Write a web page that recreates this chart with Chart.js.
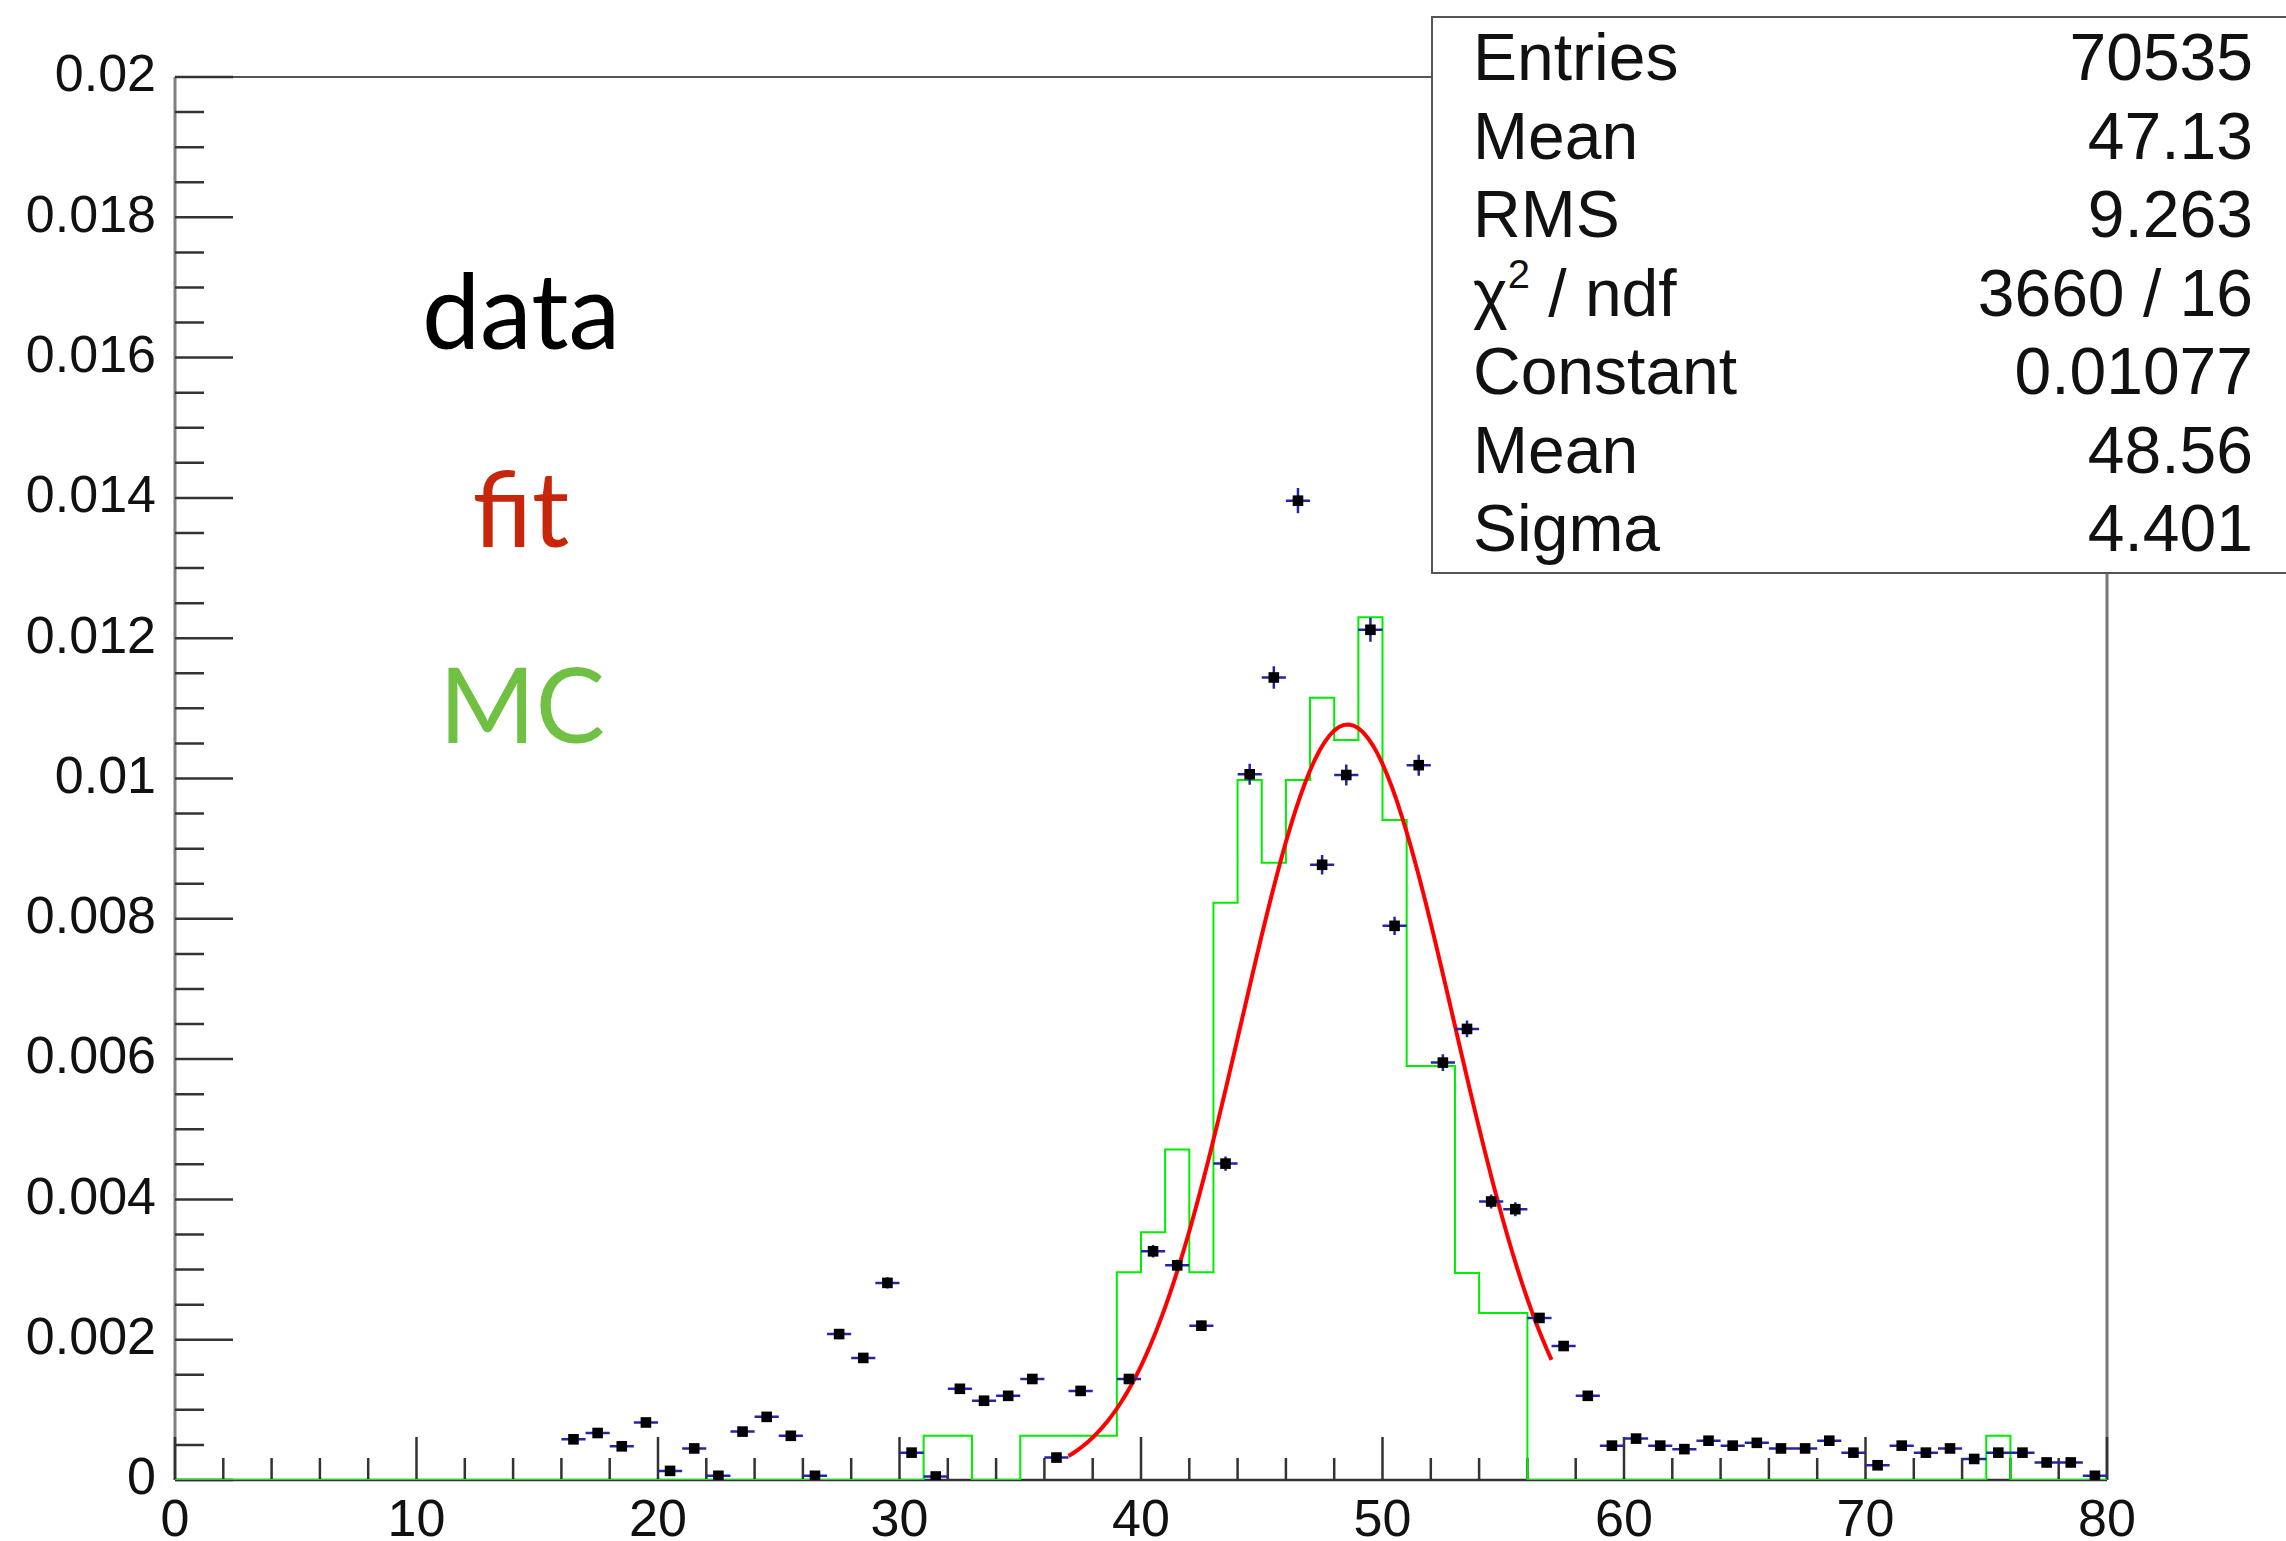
<!DOCTYPE html>
<html>
<head>
<meta charset="utf-8">
<title>data / fit / MC</title>
<script src="https://cdn.jsdelivr.net/npm/chart.js@4.4.1/dist/chart.umd.min.js"></script>
<style>
  html, body { margin: 0; padding: 0; background: #fff; }
  body { width: 2286px; height: 1541px; overflow: hidden; position: relative; }
  #plot { position: absolute; left: 0; top: 0; }
  .tag { position: absolute; width: 300px; text-align: center; font-family: Lato, sans-serif; font-size: 104px; line-height: 104px; }
  #stats {
    position: absolute; left: 1431px; top: 16px; width: 900px; box-sizing: border-box;
    border: 2px solid #555; background: #fff; padding: 0 0 4px 40px;
    font-family: "Liberation Sans", Arial, sans-serif; font-size: 66px; line-height: 78.5px; color: #111;
  }
  .row { display: flex; width: 780px; justify-content: space-between; white-space: nowrap; }
  .sup { font-size: 40px; position: relative; top: -28px; line-height: 0; }
</style>
</head>
<body>
<canvas id="plot" width="2286" height="1541"></canvas>

<div class="tag" style="left:371px; top:257px; color:#000;">data</div>
<div class="tag" style="left:371px; top:455px; color:#c8260a;">fit</div>
<div class="tag" style="left:372px; top:651px; color:#70c044;">MC</div>

<div id="stats">
  <div class="row"><span>Entries</span><span>70535</span></div>
  <div class="row"><span>Mean</span><span>47.13</span></div>
  <div class="row"><span>RMS</span><span>9.263</span></div>
  <div class="row"><span>χ<span class="sup">2</span> / ndf</span><span>3660 / 16</span></div>
  <div class="row"><span>Constant</span><span>0.01077</span></div>
  <div class="row"><span>Mean</span><span>48.56</span></div>
  <div class="row"><span>Sigma</span><span>4.401</span></div>
</div>

<script>
// axis labels
const xTickLabels = ['0', '10', '20', '30', '40', '50', '60', '70', '80'];
const yTickLabels = ['0', '0.002', '0.004', '0.006', '0.008', '0.01', '0.012', '0.014', '0.016', '0.018', '0.02'];

// data points (bin centres, contents, errors)
const dataX = [16.5, 17.5, 18.5, 19.5, 20.5, 21.5, 22.5, 23.5, 24.5, 25.5, 26.5, 27.5, 28.5, 29.5,
               30.5, 31.5, 32.5, 33.5, 34.5, 35.5, 36.5, 37.5, 39.5, 40.5, 41.5, 42.5, 43.5, 44.5,
               45.5, 46.5, 47.5, 48.5, 49.5, 50.5, 51.5, 52.5, 53.5, 54.5, 55.5, 56.5, 57.5, 58.5,
               59.5, 60.5, 61.5, 62.5, 63.5, 64.5, 65.5, 66.5, 67.5, 68.5, 69.5, 70.5, 71.5, 72.5,
               73.5, 74.5, 75.5, 76.5, 77.5, 78.5, 79.5];
const dataY = [0.00058, 0.00067, 0.00048, 0.00082, 0.00013, 0.00045, 0.00006, 0.00069, 0.0009, 0.00063,
               0.00006, 0.00208, 0.00174, 0.00281, 0.00039, 0.00005, 0.0013, 0.00113, 0.0012, 0.00144,
               0.00032, 0.00127, 0.00144, 0.00326, 0.00306, 0.0022, 0.00451, 0.01006, 0.01144, 0.01396,
               0.00877, 0.01005, 0.01212, 0.0079, 0.01019, 0.00595, 0.00643, 0.00397, 0.00386, 0.00231,
               0.00191, 0.0012, 0.00049, 0.00059, 0.00049, 0.00044, 0.00056, 0.00049, 0.00053, 0.00045,
               0.00045, 0.00056, 0.00039, 0.00021, 0.00049, 0.00039, 0.00045, 0.0003, 0.00039, 0.00039,
               0.00025, 0.00025, 0.00006];
const dataErr = [0.00004, 0.00004, 0.00003, 0.00004, 0.00002, 0.00003, 0.00001, 0.00004, 0.00004, 0.00004,
                 0.00001, 0.00007, 0.00006, 0.00008, 0.00003, 0.00001, 0.00005, 0.00005, 0.00005, 0.00006,
                 0.00003, 0.00005, 0.00006, 0.00009, 0.00008, 0.00007, 0.0001, 0.00015, 0.00016, 0.00018,
                 0.00014, 0.00015, 0.00017, 0.00013, 0.00015, 0.00012, 0.00012, 0.0001, 0.0001, 0.00007,
                 0.00007, 0.00005, 0.00003, 0.00004, 0.00003, 0.00003, 0.00004, 0.00003, 0.00004, 0.00003,
                 0.00003, 0.00004, 0.00003, 0.00002, 0.00003, 0.00003, 0.00003, 0.00003, 0.00003, 0.00003,
                 0.00002, 0.00002, 0.00001];

// MC histogram, one value per unit bin from 0 to 80
const mcBins = [
  0, 0, 0, 0, 0, 0, 0, 0, 0, 0,
  0, 0, 0, 0, 0, 0, 0, 0, 0, 0,
  0, 0, 0, 0, 0, 0, 0, 0, 0, 0,
  0, 0.00063, 0.00063, 0, 0, 0.00063, 0.00063, 0.00063, 0.00063, 0.00296,
  0.00353, 0.00471, 0.00296, 0.00823, 0.00998, 0.0088, 0.00998, 0.01115, 0.01055, 0.0123,
  0.00941, 0.0059, 0.0059, 0.00295, 0.00238, 0.00238, 0, 0, 0, 0,
  0, 0, 0, 0, 0, 0, 0, 0, 0, 0,
  0, 0, 0, 0, 0, 0.00063, 0, 0, 0, 0
];

// gaussian fit parameters
const fitConstant = 0.01077;
const fitMean = 48.56;
const fitSigma = 4.401;
const fitRange = [37, 57];

// bin i spans [i, i+1]; the first point only anchors the left edge
const mcPoints = [{ x: 0, y: mcBins[0] }];
mcBins.forEach((v, i) => mcPoints.push({ x: i + 1, y: v }));

const fitPoints = [];
for (let k = 0; k <= 100; k++) {
    const x = fitRange[0] + (fitRange[1] - fitRange[0]) * k / 100;
    const t = (x - fitMean) / fitSigma;
    fitPoints.push({ x: x, y: fitConstant * Math.exp(-0.5 * t * t) });
}

const dataPoints = dataX.map((x, i) => ({ x: x, y: dataY[i] }));

// frame, axis lines and inward tick marks
const framePlugin = {
    id: 'frame',
    beforeDatasetsDraw(chart) {
        const ctx = chart.ctx;
        const xs = chart.scales.x, ys = chart.scales.y;
        const a = chart.chartArea;
        ctx.save();
        ctx.lineCap = 'butt';

        ctx.strokeStyle = '#555';
        ctx.lineWidth = 2;
        ctx.beginPath();
        ctx.moveTo(a.left, a.top);
        ctx.lineTo(a.right, a.top);
        ctx.stroke();

        ctx.strokeStyle = '#777';
        ctx.lineWidth = 3;
        ctx.beginPath();
        ctx.moveTo(a.right, a.top);
        ctx.lineTo(a.right, a.bottom);
        ctx.stroke();

        ctx.strokeStyle = '#808080';
        ctx.beginPath();
        ctx.moveTo(a.left, a.top);
        ctx.lineTo(a.left, a.bottom);
        ctx.stroke();

        ctx.strokeStyle = '#333';
        ctx.lineWidth = 2.5;
        ctx.beginPath();
        ctx.moveTo(a.left, a.bottom);
        ctx.lineTo(a.right, a.bottom);
        ctx.stroke();

        // y ticks: major every 0.002, minor every 0.0005
        ctx.lineWidth = 2.5;
        ctx.beginPath();
        for (let k = 0; k <= 40; k++) {
            const py = ys.getPixelForValue(k * 0.0005);
            const len = k % 4 === 0 ? 58 : 29;
            ctx.moveTo(a.left, py);
            ctx.lineTo(a.left + len, py);
        }
        // x ticks: major every 10, minor every 2
        for (let k = 0; k <= 40; k++) {
            const px = xs.getPixelForValue(k * 2);
            const len = k % 5 === 0 ? 43 : 22;
            ctx.moveTo(px, a.bottom);
            ctx.lineTo(px, a.bottom - len);
        }
        ctx.stroke();
        ctx.restore();
    }
};

// horizontal bin-width bars and vertical error bars under the data markers
const errorBarPlugin = {
    id: 'errorBars',
    beforeDatasetDraw(chart, args) {
        if (args.index !== 0) return;
        const ctx = chart.ctx;
        const xs = chart.scales.x, ys = chart.scales.y;
        ctx.save();
        ctx.strokeStyle = '#2424a8';
        ctx.lineWidth = 2.5;
        ctx.beginPath();
        dataX.forEach((x, i) => {
            const py = ys.getPixelForValue(dataY[i]);
            ctx.moveTo(xs.getPixelForValue(x - 0.5), py);
            ctx.lineTo(xs.getPixelForValue(x + 0.5), py);
            ctx.moveTo(xs.getPixelForValue(x), ys.getPixelForValue(dataY[i] - dataErr[i]));
            ctx.lineTo(xs.getPixelForValue(x), ys.getPixelForValue(dataY[i] + dataErr[i]));
        });
        ctx.stroke();
        ctx.restore();
    }
};

const tickFont = { family: "'Liberation Sans', Arial, sans-serif", size: 52 };

new Chart(document.getElementById('plot').getContext('2d'), {
    type: 'scatter',
    data: {
        datasets: [
            {
                label: 'data',
                data: dataPoints,
                pointStyle: 'rect',
                pointRadius: 7.5,
                pointBackgroundColor: '#000',
                pointBorderWidth: 0,
                showLine: false
            },
            {
                label: 'fit',
                type: 'line',
                data: fitPoints,
                borderColor: '#ff0000',
                borderWidth: 4,
                pointRadius: 0,
                fill: false,
                tension: 0
            },
            {
                label: 'MC',
                type: 'line',
                data: mcPoints,
                stepped: 'after',
                borderColor: '#00ee00',
                borderWidth: 2,
                pointRadius: 0,
                fill: false
            }
        ]
    },
    options: {
        responsive: false,
        animation: false,
        devicePixelRatio: 1,
        layout: { padding: { top: 77, right: 179, left: 0, bottom: 0 } },
        plugins: { legend: { display: false }, tooltip: { enabled: false } },
        scales: {
            x: {
                type: 'linear',
                min: 0,
                max: 80,
                grid: { display: false, drawTicks: false },
                border: { display: false },
                ticks: {
                    stepSize: 10,
                    autoSkip: false,
                    maxRotation: 0,
                    padding: 10,
                    color: '#111',
                    font: tickFont,
                    callback: (v, i) => xTickLabels[i]
                },
                afterFit: s => { s.height = 61; }
            },
            y: {
                type: 'linear',
                min: 0,
                max: 0.02,
                grid: { display: false, drawTicks: false },
                border: { display: false },
                ticks: {
                    stepSize: 0.002,
                    autoSkip: false,
                    padding: 19,
                    color: '#111',
                    font: tickFont,
                    callback: (v, i) => yTickLabels[i]
                },
                afterFit: s => { s.width = 175; }
            }
        }
    },
    plugins: [framePlugin, errorBarPlugin]
});
</script>
</body>
</html>
